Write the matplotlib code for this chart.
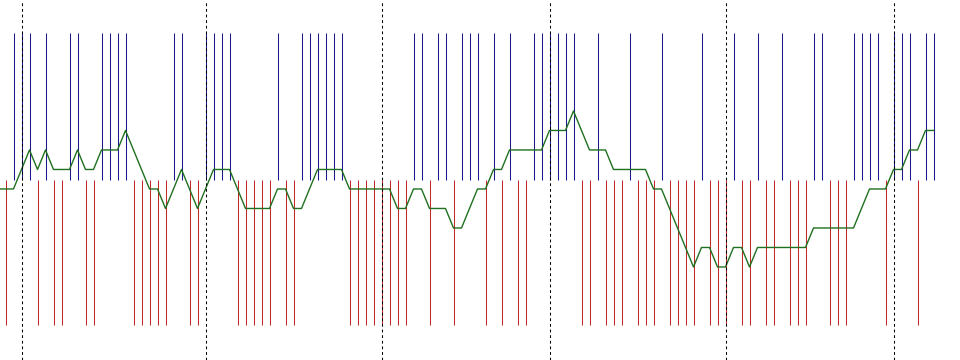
import numpy as np
import matplotlib
matplotlib.use('Agg')
import matplotlib.pyplot as plt

# one event per bar: 1 = up (blue), -1 = down (red)
events = [-1, 1, 1, 1, -1, 1, -1, -1, 1, 1,
          -1, -1, 1, 1, 1, 1, -1, -1, -1, -1,
          -1, 1, 1, -1, -1, 1, 1, 1, 1, -1,
          -1, -1, -1, -1, 1, -1, -1, 1, 1, 1,
          1, 1, 1, -1, -1, -1, -1, -1, -1, -1,
          -1, 1, 1, -1, 1, 1, -1, 1, 1, 1,
          -1, 1, -1, 1, -1, -1, 1, 1, 1, 1,
          1, 1, -1, -1, 1, -1, -1, -1, 1, -1,
          -1, -1, 1, -1, -1, -1, -1, 1, -1, -1,
          -1, 1, -1, -1, 1, -1, -1, 1, -1, -1,
          -1, 1, 1, -1, -1, -1, 1, 1, 1, 1,
          -1, 1, 1, 1, -1, 1, 1]

# green line level, starting one bar before the first event
level = [0,
         0, 0, 1, 2, 1, 2, 1, 1, 1, 2,
         1, 1, 2, 2, 2, 3, 2, 1, 0, 0,
         -1, 0, 1, 0, -1, 0, 1, 1, 1, 0,
         -1, -1, -1, -1, 0, 0, -1, -1, 0, 1,
         1, 1, 1, 0, 0, 0, 0, 0, 0, -1,
         -1, 0, 0, -1, -1, -1, -2, -2, -1, 0,
         0, 1, 1, 2, 2, 2, 2, 2, 3, 3,
         3, 4, 3, 2, 2, 2, 1, 1, 1, 1,
         1, 0, 0, -1, -2, -3, -4, -3, -3, -4,
         -4, -3, -3, -4, -3, -3, -3, -3, -3, -3,
         -3, -2, -2, -2, -2, -2, -2, -1, 0, 0,
         0, 1, 1, 2, 2, 3, 3]

# bars where a new period starts
separators = [2, 25, 47, 68, 90, 111]

events = np.array(events)
bars = np.arange(len(events))
level = np.array(level)
level_x = np.arange(-1, len(level) - 1)

fig = plt.figure(figsize=(9.6, 3.6), dpi=100)
ax = fig.add_axes([0, 0, 1, 1])

up = bars[events > 0]
down = bars[events < 0]
ax.vlines(up, 0, 7.55, colors='#1a1a88', lw=0.75)
ax.vlines(down, -7.45, 0, colors='#c02a2a', lw=0.75)
ax.plot(level_x, level - 0.46, color='#1f701f', lw=1.0)

for s in separators:
    ax.axvline(s, color='black', lw=0.75, linestyle=(0, (2.7, 2.7)))

# bar centres on pixel centres so the 1px lines stay sharp
ax.set_xlim(-0.6875, 119.3125)
ax.set_ylim(-9.23, 9.23)
ax.axis('off')

fig.savefig('out.png', dpi=100, facecolor='white')
plt.close('all')
